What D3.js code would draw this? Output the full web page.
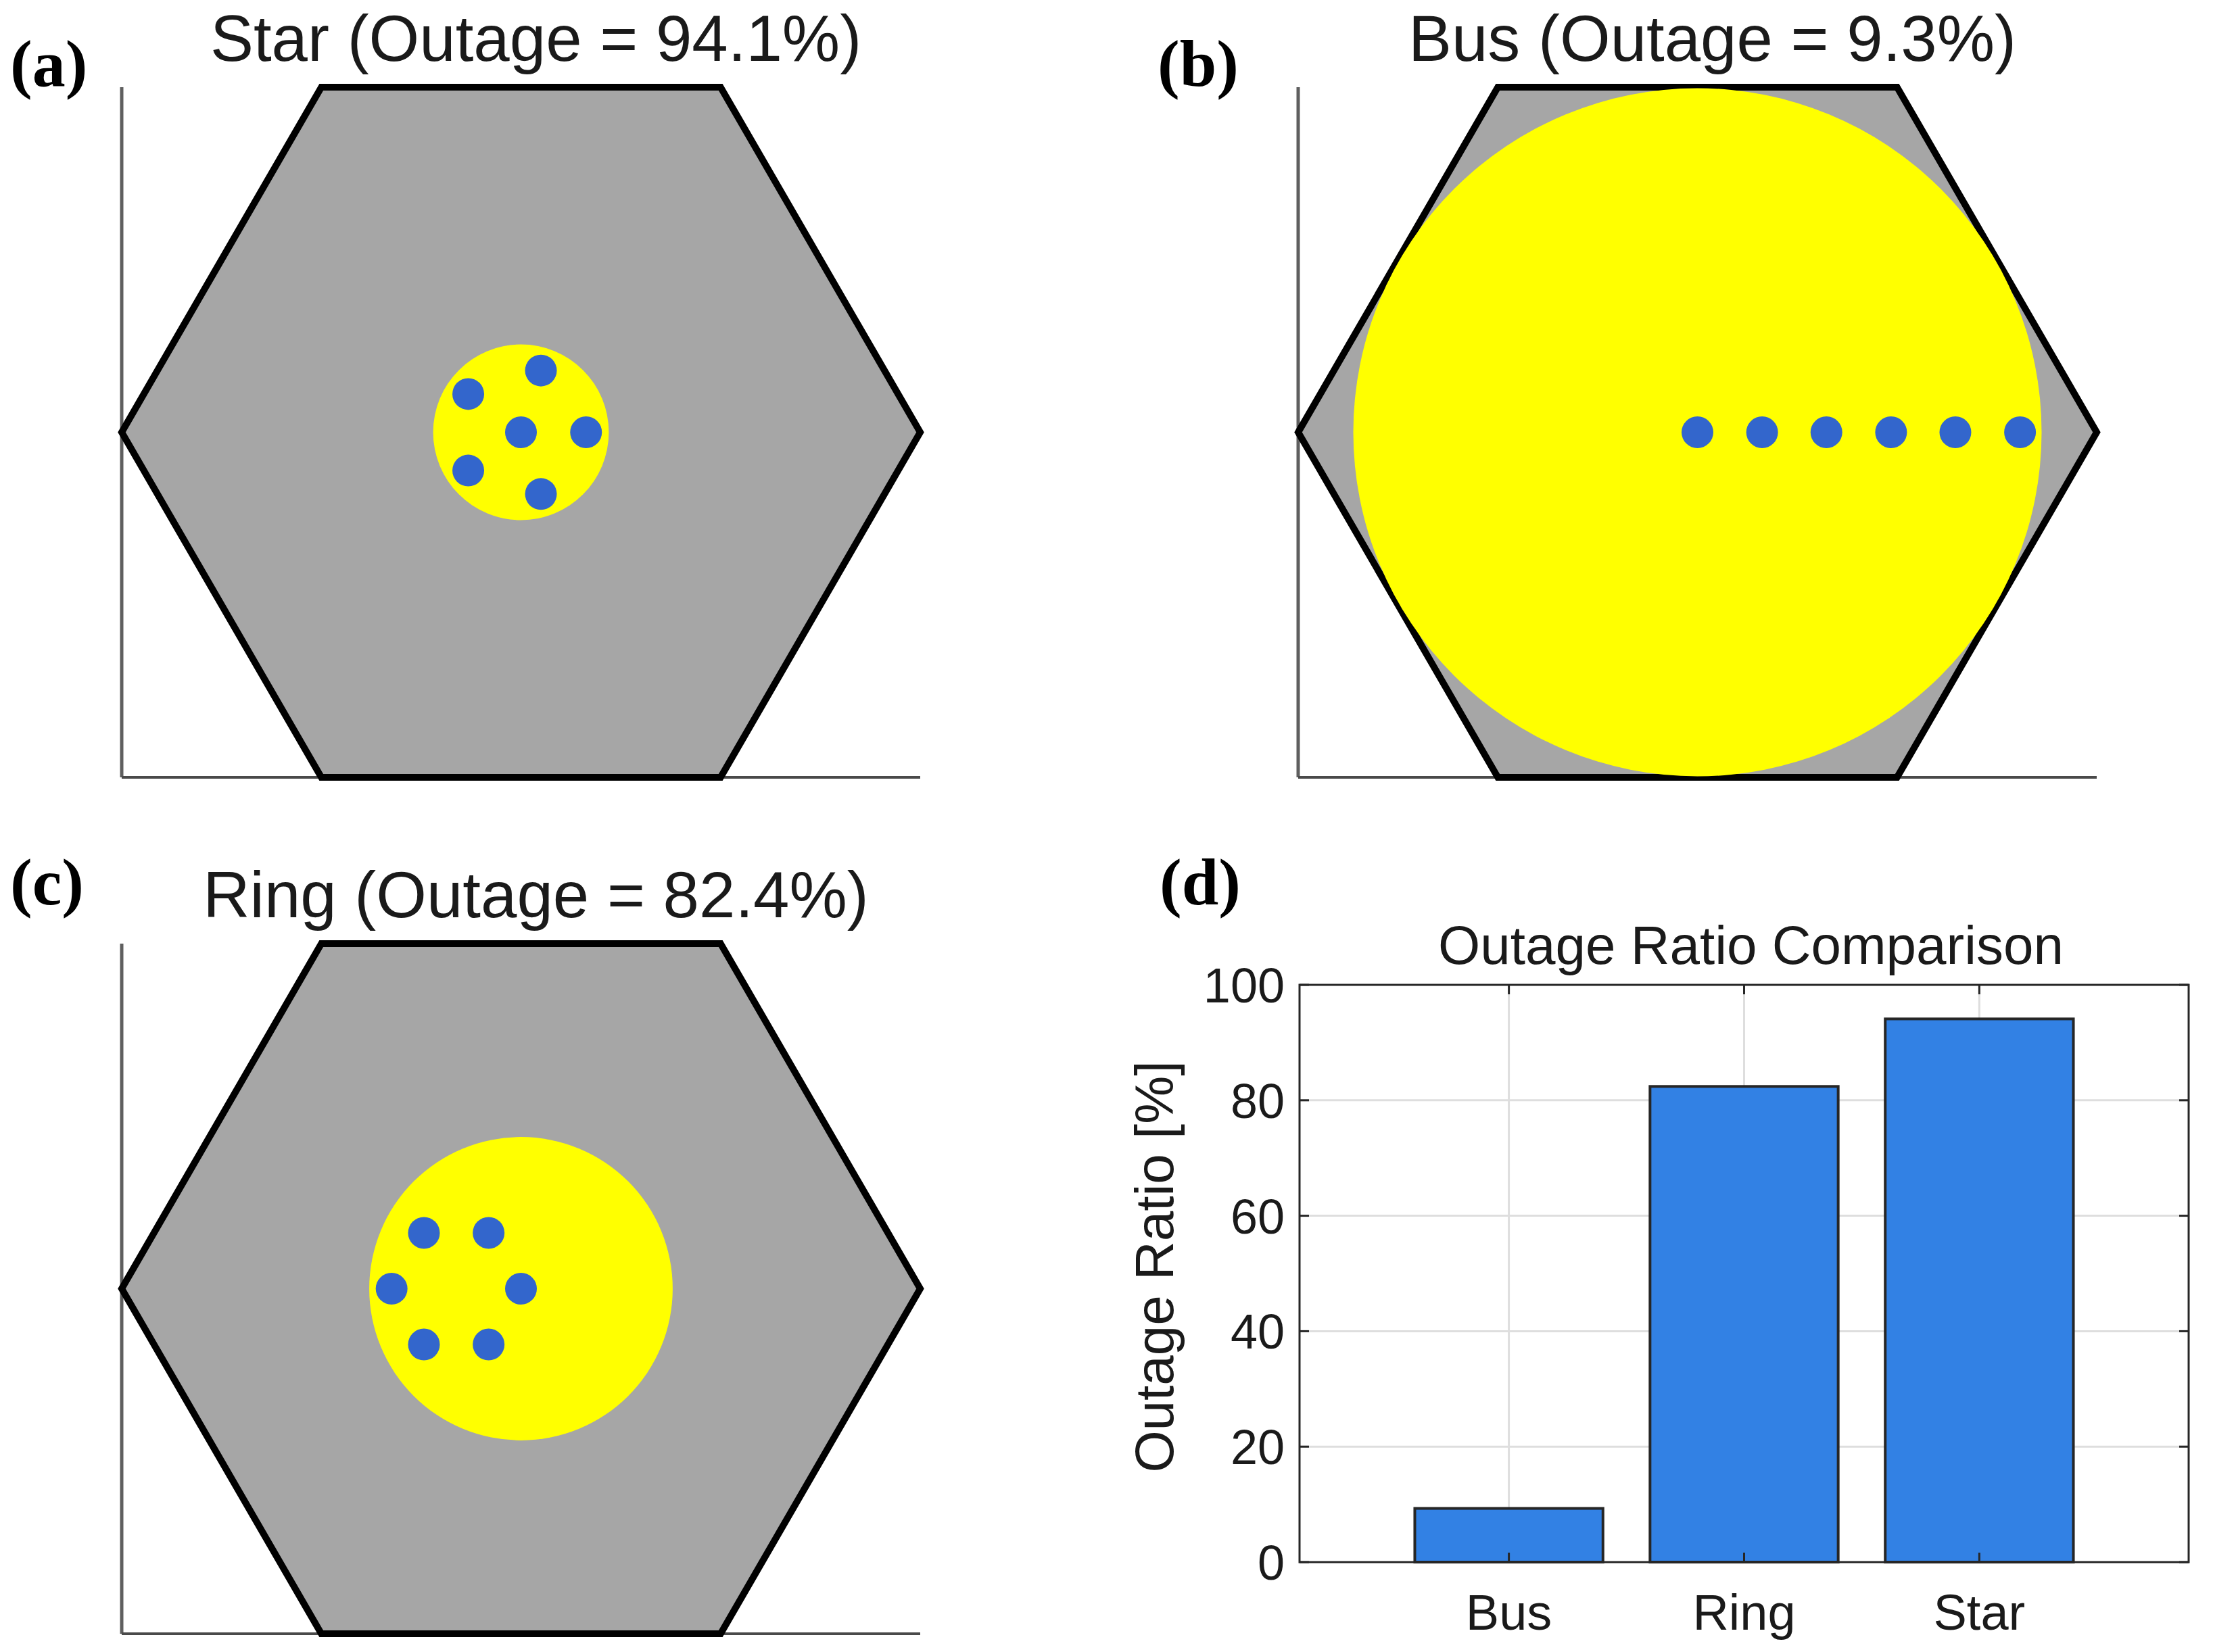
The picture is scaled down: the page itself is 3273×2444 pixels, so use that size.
<!DOCTYPE html>

<!-- Head -->
<head>
  <meta charset="utf-8">
  <title>Outage Ratio by Topology</title>
  <style>
    body { margin: 0; background: #fff; }
    text { font-family: "Liberation Sans", Arial, sans-serif; fill: #1a1a1a; }
    .panel-label { font-family: "Liberation Serif", "Times New Roman", serif; font-weight: bold; fill: #000; }
  </style>
</head>

<!-- Body -->
<body>

<!-- Load d3 -->
<script src="https://d3js.org/d3.v7.min.js"></script>

<script>
// ---- data (hexagon circumradius = 1000) ----
var hexRadius = 1000;

// topology panels, in drawing order a, b, c
var topologies = ["Star", "Bus", "Ring"];
var panelLetters = ["(a)", "(b)", "(c)"];
var outagePercent = [94.1, 9.3, 82.4];
var coverageRadius = [220, 862, 380];

// node positions for each topology
var starNodesX = [0, 163, 50, -132, -132, 50];
var starNodesY = [0, 0, 155, 96, -96, -155];
var busNodesX = [0, 162, 323, 485, 646, 808];
var busNodesY = [0, 0, 0, 0, 0, 0];
var ringNodesX = [0, -81, -243, -324, -243, -81];
var ringNodesY = [0, 140, 140, 0, -140, -140];

// bar chart (d)
var barCategories = ["Bus", "Ring", "Star"];
var barValues = [9.3, 82.4, 94.1];
var barTicks = [0, 20, 40, 60, 80, 100];

var nodesX = [starNodesX, busNodesX, ringNodesX];
var nodesY = [starNodesY, busNodesY, ringNodesY];

var width = 3273,
    height = 2444;

var svg = d3.select("body").append("svg")
    .attr("width", width)
    .attr("height", height);

// where each hexagon axes sits on the page, plus its letter position
var hexBoxes = [
  {left: 180, top: 129, lx: 15, ly: 127},
  {left: 1920, top: 129, lx: 1712, ly: 127},
  {left: 180, top: 1396, lx: 15, ly: 1338}
];
var hexW = 1181,
    hexH = 1021;

// regular flat-topped hexagon corners
var hexCorners = d3.range(6).map(function(i) {
  var a = i * Math.PI / 3;
  return [hexRadius * Math.cos(a), hexRadius * Math.sin(a)];
});

topologies.forEach(function(name, k) {
  var box = hexBoxes[k];
  var x = d3.scaleLinear().domain([-hexRadius, hexRadius]).range([box.left, box.left + hexW]);
  var yr = hexRadius * Math.sqrt(3) / 2;
  var y = d3.scaleLinear().domain([-yr, yr]).range([box.top + hexH, box.top]);

  var g = svg.append("g").attr("class", "hex-panel");

  // only left and bottom axis lines are shown
  g.append("line")
      .attr("x1", x(-hexRadius)).attr("x2", x(-hexRadius))
      .attr("y1", y(yr)).attr("y2", y(-yr))
      .attr("stroke", "#5f5f5f").attr("stroke-width", 5);
  g.append("line")
      .attr("x1", x(-hexRadius)).attr("x2", x(hexRadius))
      .attr("y1", y(-yr)).attr("y2", y(-yr))
      .attr("stroke", "#4a4a4a").attr("stroke-width", 4);

  // cell
  g.append("path")
      .attr("d", d3.line().x(function(d) { return x(d[0]); }).y(function(d) { return y(d[1]); })(hexCorners) + "Z")
      .attr("fill", "#a6a6a6")
      .attr("stroke", "#000")
      .attr("stroke-width", 10)
      .attr("stroke-linejoin", "miter");

  // coverage area
  g.append("circle")
      .attr("cx", x(0))
      .attr("cy", y(0))
      .attr("r", x(coverageRadius[k]) - x(0))
      .attr("fill", "#ffff00");

  // nodes
  g.selectAll(".node")
      .data(d3.range(nodesX[k].length))
    .enter().append("circle")
      .attr("class", "node")
      .attr("cx", function(i) { return x(nodesX[k][i]); })
      .attr("cy", function(i) { return y(nodesY[k][i]); })
      .attr("r", 23.5)
      .attr("fill", "#3366cc");

  // title
  g.append("text")
      .attr("x", box.left + hexW / 2 + 22)
      .attr("y", box.top - 39)
      .attr("text-anchor", "middle")
      .style("font-size", "96px")
      .text(name + " (Outage = " + outagePercent[k] + "%)");

  // panel letter
  svg.append("text")
      .attr("class", "panel-label")
      .attr("x", box.lx)
      .attr("y", box.ly)
      .style("font-size", "98px")
      .text(panelLetters[k]);
});

// ---- (d) bar chart ----
var bx = d3.scaleLinear().domain([0.11, 3.89]).range([1922, 3237]);
var by = d3.scaleLinear().domain([0, 100]).range([2311, 1457]);

var bar = svg.append("g").attr("class", "bar-panel");

// grid
bar.selectAll(".ygrid")
    .data(barTicks.slice(1, -1))
  .enter().append("line")
    .attr("x1", bx.range()[0]).attr("x2", bx.range()[1])
    .attr("y1", function(d) { return by(d); }).attr("y2", function(d) { return by(d); })
    .attr("stroke", "#dedede").attr("stroke-width", 3);
bar.selectAll(".xgrid")
    .data(barCategories)
  .enter().append("line")
    .attr("x1", function(d, i) { return bx(i + 1); }).attr("x2", function(d, i) { return bx(i + 1); })
    .attr("y1", by.range()[0]).attr("y2", by.range()[1])
    .attr("stroke", "#dedede").attr("stroke-width", 3);

// bars
bar.selectAll(".bar")
    .data(barValues)
  .enter().append("rect")
    .attr("class", "bar")
    .attr("x", function(d, i) { return bx(i + 1 - 0.4); })
    .attr("width", bx(0.8) - bx(0))
    .attr("y", function(d) { return by(d); })
    .attr("height", function(d) { return by(0) - by(d); })
    .attr("fill", "#3281e4")
    .attr("stroke", "#262626")
    .attr("stroke-width", 4);

// ticks, inside, mirrored on all four sides
var tickLen = 14;
barTicks.forEach(function(t) {
  bar.append("line")
      .attr("x1", bx.range()[0]).attr("x2", bx.range()[0] + tickLen)
      .attr("y1", by(t)).attr("y2", by(t))
      .attr("stroke", "#262626").attr("stroke-width", 3);
  bar.append("line")
      .attr("x1", bx.range()[1]).attr("x2", bx.range()[1] - tickLen)
      .attr("y1", by(t)).attr("y2", by(t))
      .attr("stroke", "#262626").attr("stroke-width", 3);
  bar.append("text")
      .attr("x", bx.range()[0] - 22)
      .attr("y", by(t))
      .attr("dy", "0.36em")
      .attr("text-anchor", "end")
      .style("font-size", "72px")
      .text(t);
});
barCategories.forEach(function(c, i) {
  bar.append("line")
      .attr("x1", bx(i + 1)).attr("x2", bx(i + 1))
      .attr("y1", by.range()[0]).attr("y2", by.range()[0] - tickLen)
      .attr("stroke", "#262626").attr("stroke-width", 3);
  bar.append("line")
      .attr("x1", bx(i + 1)).attr("x2", bx(i + 1))
      .attr("y1", by.range()[1]).attr("y2", by.range()[1] + tickLen)
      .attr("stroke", "#262626").attr("stroke-width", 3);
  bar.append("text")
      .attr("x", bx(i + 1))
      .attr("y", 2411)
      .attr("text-anchor", "middle")
      .style("font-size", "74px")
      .text(c);
});

// axes box
bar.append("rect")
    .attr("x", bx.range()[0])
    .attr("y", by.range()[1])
    .attr("width", bx.range()[1] - bx.range()[0])
    .attr("height", by.range()[0] - by.range()[1])
    .attr("fill", "none")
    .attr("stroke", "#262626")
    .attr("stroke-width", 3);

bar.append("text")
    .attr("x", (bx.range()[0] + bx.range()[1]) / 2 + 10)
    .attr("y", 1426)
    .attr("text-anchor", "middle")
    .style("font-size", "80px")
    .text("Outage Ratio Comparison");

bar.append("text")
    .attr("transform", "translate(1735," + (by(50) - 10) + ") rotate(-90)")
    .attr("text-anchor", "middle")
    .style("font-size", "80px")
    .text("Outage Ratio [%]");

svg.append("text")
    .attr("class", "panel-label")
    .attr("x", 1715)
    .attr("y", 1338)
    .style("font-size", "98px")
    .text("(d)");
</script>
</body>
